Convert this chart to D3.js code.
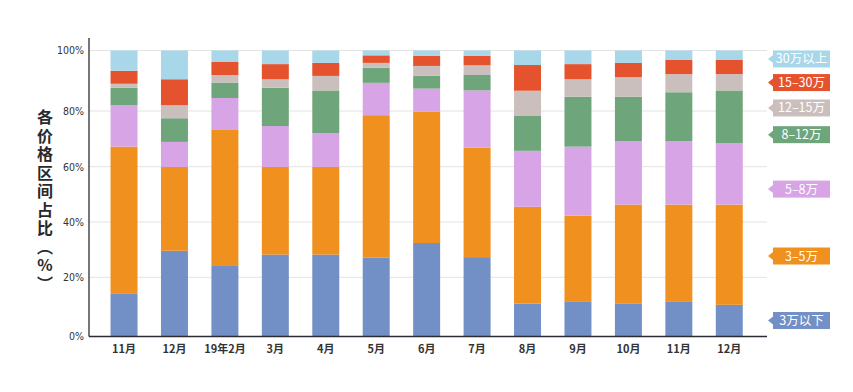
<!DOCTYPE html>
<html>
<head>
<meta charset="utf-8">
<script src="https://cdn.jsdelivr.net/npm/d3@7"></script>
<style>
  html, body { margin: 0; padding: 0; background: #fff; }
  svg { display: block; }
</style>
</head>
<body>
<svg id="chart" width="853" height="392"></svg>
<script>
// ---------- DATA ----------
const categories = ["11月","12月","19年2月","3月","4月","5月","6月","7月","8月","9月","10月","11月","12月"];
const seriesNames = ["3万以下","3–5万","5–8万","8–12万","12–15万","15–30万","30万以上"];
const s_under3  = [14.4, 29.6, 24.1, 28.2, 28.2, 27.2, 32.4, 27.3, 11.1, 11.9, 11.2, 11.9, 10.7];
const s_3to5    = [52.8, 30.3, 49.1, 31.7, 31.7, 51.3, 47.3, 39.5, 34.4, 30.4, 35.1, 34.4, 35.6];
const s_5to8    = [14.7,  9.0, 11.1, 14.7, 12.1, 10.8,  7.7, 20.0, 20.2, 24.9, 22.9, 22.9, 22.1];
const s_8to12   = [ 5.8,  8.5,  5.1, 13.1, 14.8,  5.0,  4.3,  5.1, 12.5, 17.5, 15.5, 17.0, 18.4];
const s_12to15  = [ 1.3,  4.5,  2.5,  2.8,  4.8,  1.6,  3.2,  3.2,  8.5,  5.8,  6.5,  6.0,  5.4];
const s_15to30  = [ 4.3,  8.6,  4.3,  5.0,  4.3,  2.5,  3.4,  3.2,  8.5,  5.0,  4.7,  4.8,  4.8];
const s_over30  = [ 6.7,  9.5,  3.8,  4.5,  4.1,  1.6,  1.7,  1.7,  4.8,  4.5,  4.1,  3.0,  3.0];
const yTicks = [0, 20, 40, 60, 80, 100];
const yTitleParts = ["各价格区间占比（", "%", "）"];

// ---------- STYLE / LAYOUT ----------
const colors = ["#7390c6","#f0911f","#d7a4e6","#6fa57b","#cbbfbd","#e4532e","#a8d7ea"];
const seriesValues = [s_under3, s_3to5, s_5to8, s_8to12, s_12to15, s_15to30, s_over30];
const rows = categories.map((c, i) => {
  const r = { idx: i };
  seriesNames.forEach((n, k) => r[n] = seriesValues[k][i]);
  return r;
});

const svg = d3.select("#chart");
const axisLeft = 89, axisRight = 767, baseY = 336.5;

const x = d3.scaleBand()
  .domain(categories.map((c, i) => i))
  .range([95.4, 757.9])
  .paddingInner(0.465)
  .paddingOuter(0.3);

const y = d3.scaleLinear()
  .domain(yTicks)
  .range([336.5, 277.3, 222, 166.7, 111, 50.5]);

// gridlines
svg.append("g").selectAll("line")
  .data(yTicks.filter(d => d > 0))
  .join("line")
  .attr("x1", axisLeft).attr("x2", axisRight)
  .attr("y1", d => y(d)).attr("y2", d => y(d))
  .attr("stroke", "#e3e3e3").attr("stroke-width", 1);

// stacked bars
const stack = d3.stack().keys(seriesNames);
const stacked = stack(rows);
svg.append("g").selectAll("g")
  .data(stacked)
  .join("g")
  .attr("fill", (d, i) => colors[i])
  .selectAll("rect")
  .data(d => d)
  .join("rect")
  .attr("x", d => x(d.data.idx))
  .attr("width", x.bandwidth())
  .attr("y", d => y(d[1]))
  .attr("height", d => y(d[0]) - y(d[1]));

// y axis tick labels
const yAxis = d3.axisLeft(y).tickValues(yTicks).tickFormat(d => d + "%").tickSize(0).tickPadding(5);
const gy = svg.append("g").attr("transform", `translate(${axisLeft},0)`).call(yAxis);
gy.select(".domain").remove();
gy.selectAll("text")
  .attr("fill", "#333")
  .style("font-family", "'DejaVu Sans Condensed','Liberation Sans Narrow','Roboto',sans-serif")
  .style("font-size", "10.5px")
  .style("font-stretch", "condensed");

// axis lines
svg.append("line").attr("x1", axisLeft).attr("x2", axisLeft).attr("y1", 38).attr("y2", baseY)
  .attr("stroke", "#2b2b33").attr("stroke-width", 1.3);
svg.append("line").attr("x1", axisLeft).attr("x2", axisRight).attr("y1", baseY).attr("y2", baseY)
  .attr("stroke", "#2b2b33").attr("stroke-width", 1.3);

// x axis labels
const xAxis = d3.axisBottom(x).tickFormat(i => categories[i]).tickSize(0).tickPadding(9);
const gx = svg.append("g").attr("transform", `translate(0,${baseY})`).call(xAxis);
gx.select(".domain").remove();
gx.selectAll("text")
  .attr("fill", "#333")
  .style("font-family", "'Noto Sans CJK SC',sans-serif")
  .style("font-weight", "bold")
  .style("font-size", "11px");

// y title, vertical writing mode
const title = svg.append("text")
  .attr("x", 45).attr("y", 109)
  .style("writing-mode", "vertical-rl")
  .style("text-orientation", "mixed")
  .style("font-family", "'Noto Sans CJK SC',sans-serif")
  .style("font-weight", "bold")
  .style("font-size", "16px")
  .style("letter-spacing", "2.5px")
  .attr("fill", "#2a2a2a");
title.selectAll("tspan")
  .data(yTitleParts)
  .join("tspan")
  .style("text-orientation", d => d === "%" ? "upright" : null)
  .text(d => d);

// legend tags on right
const legendAt = [5.4, 27.7, 51.9, 71.5, 81.0, 89.4, 97.2];
const tagX = 773, tagW = 57, tagH = 17;
const lg = svg.append("g").selectAll("g")
  .data(seriesNames)
  .join("g")
  .attr("transform", (d, i) => `translate(0,${y(legendAt[i])})`);
lg.append("path")
  .attr("d", `M${tagX - 5},0 L${tagX},-4 L${tagX},4 Z`)
  .attr("fill", (d, i) => colors[i]);
lg.append("rect")
  .attr("x", tagX).attr("y", -tagH / 2)
  .attr("width", tagW).attr("height", tagH)
  .attr("fill", (d, i) => colors[i]);
lg.append("text")
  .attr("x", tagX + tagW / 2).attr("y", 0)
  .attr("dy", "0.36em")
  .attr("text-anchor", "middle")
  .attr("fill", "#fff")
  .style("font-family", "'Noto Sans CJK SC',sans-serif")
  .style("font-size", "12.5px")
  .text(d => d);
</script>
</body>
</html>
